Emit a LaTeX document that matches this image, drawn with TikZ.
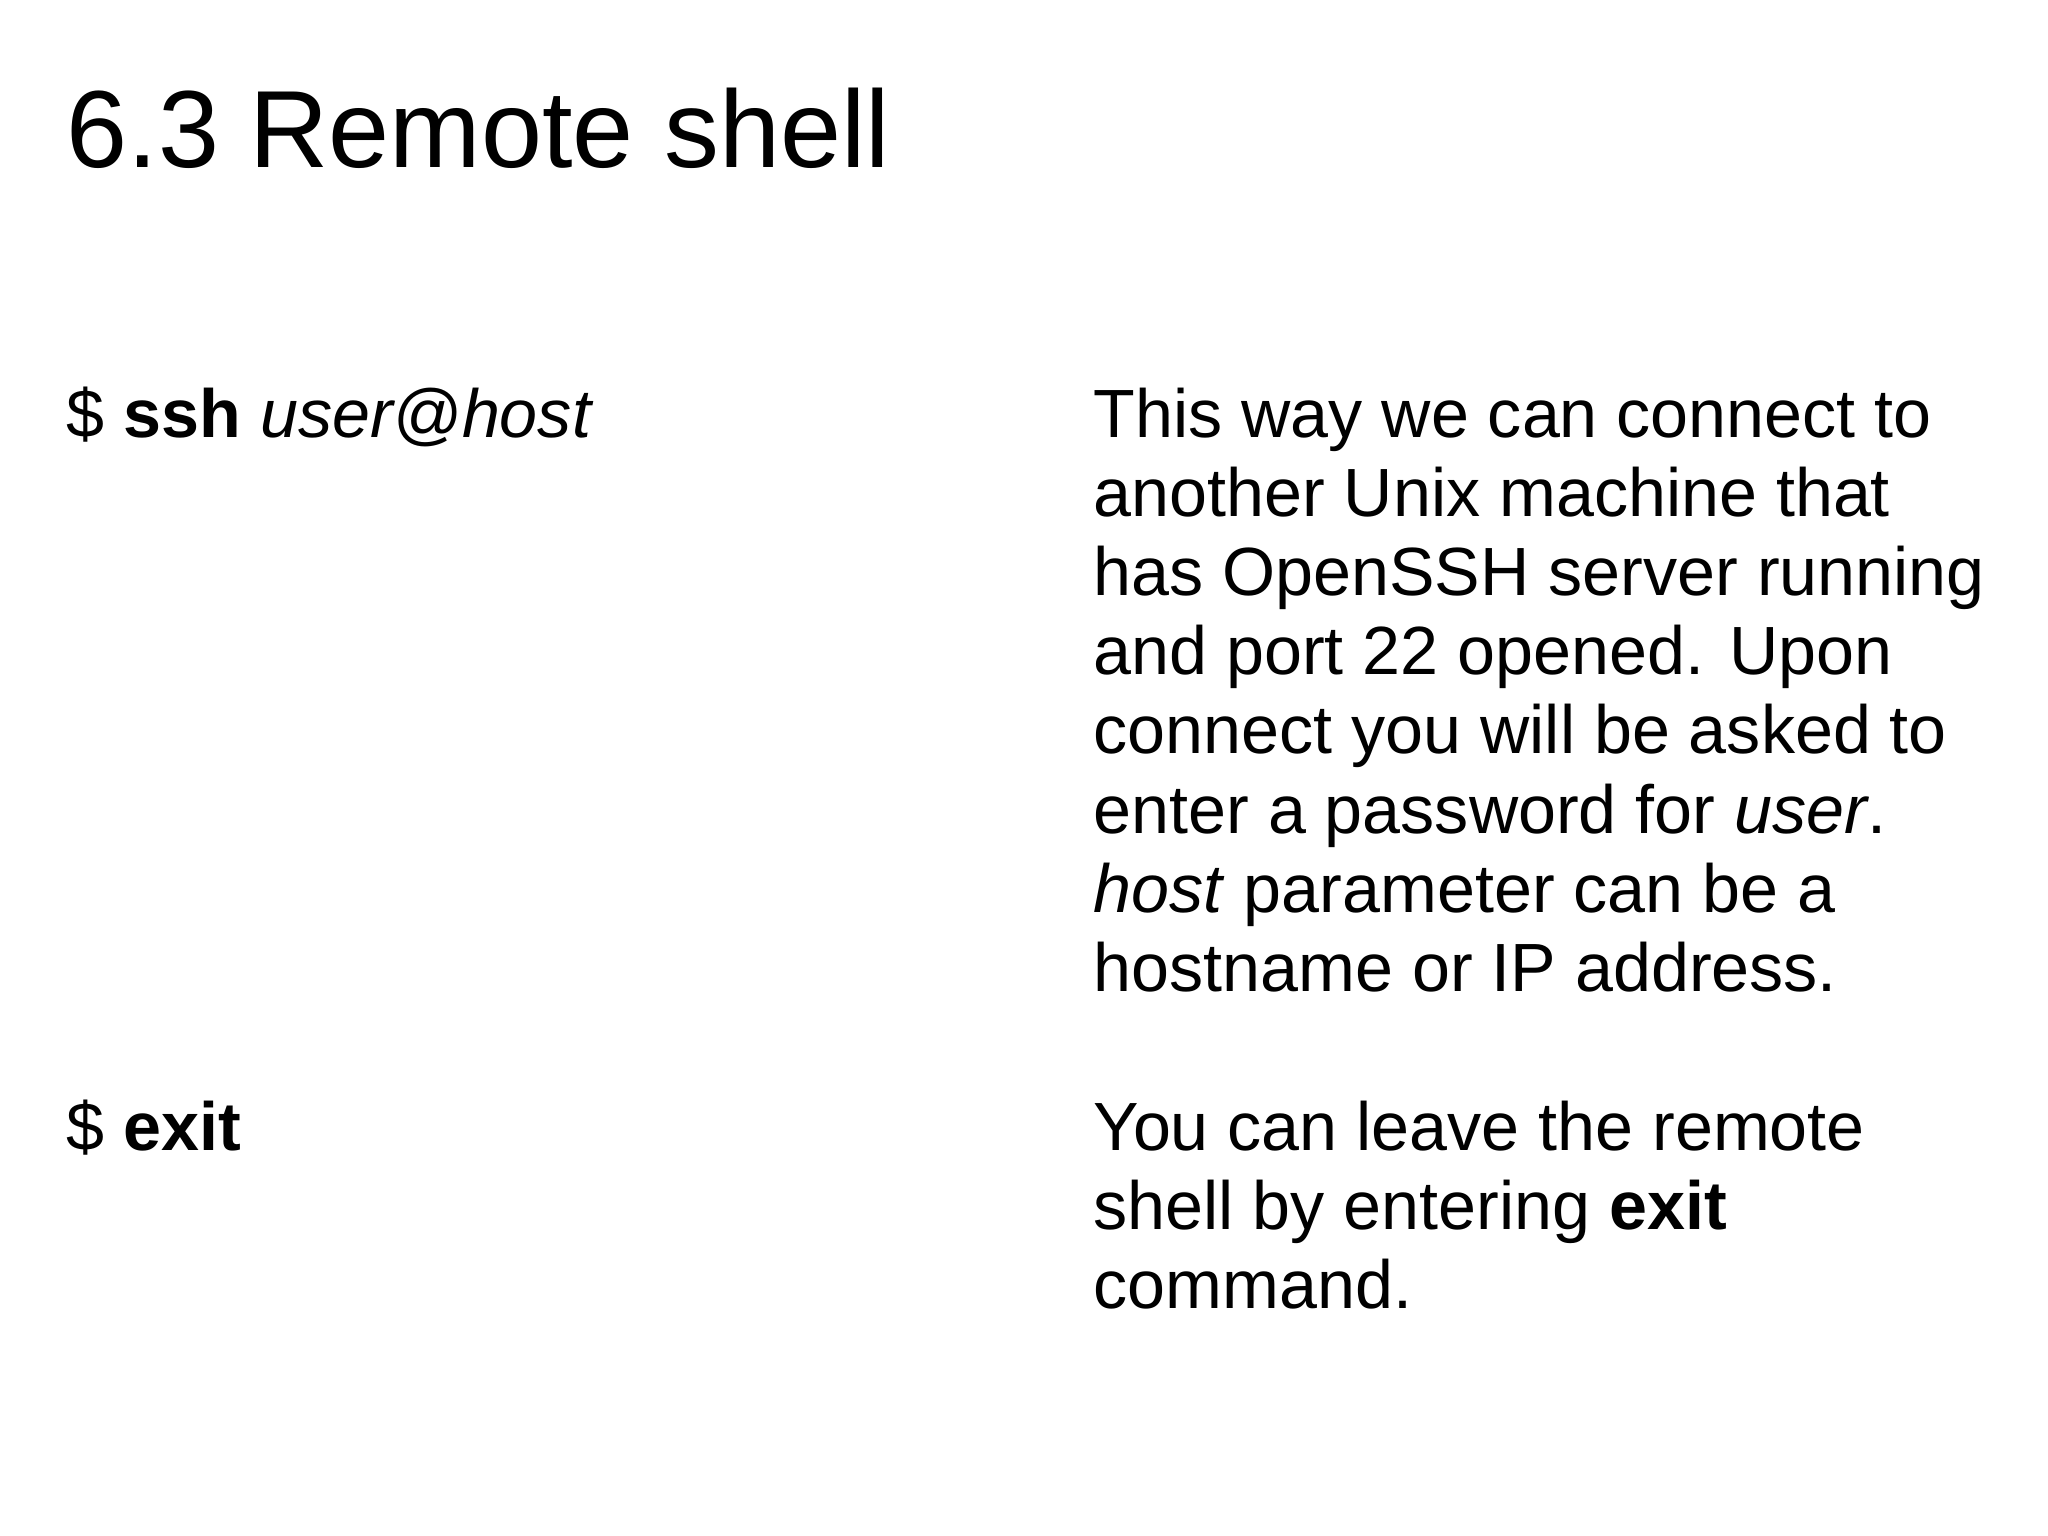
\documentclass[tikz,border=0pt]{standalone}
\usepackage{fontspec}
\setmainfont{Liberation Sans}
\begin{document}
\begin{tikzpicture}[x=0.01cm,y=-0.01cm,
  body/.style={anchor=base west,inner sep=0pt,font=\fontsize{19.4pt}{22pt}\selectfont}]
\useasboundingbox (0,0) rectangle (2048,1536);
\node[anchor=base west,inner sep=0pt,font=\fontsize{31.2pt}{38pt}\selectfont] (title) at (66,167) {6.3 Remote shell};
\node[body] (c1) at (66,437) {\$ \textbf{ssh} \textit{user@host}};
\node[body] (c2) at (66,1150) {\$ \textbf{exit}};
\foreach \t [count=\i from 0] in {This way we can connect to,another Unix machine that,has OpenSSH server running,and port 22 opened. Upon,connect you will be asked to,enter a password for \textit{user}.,\textit{host} parameter can be a,hostname or IP address.}
  \node[body] (d\i) at (1093,437+79.2*\i) {\t};
\foreach \t [count=\i from 0] in {You can leave the remote,shell by entering \textbf{exit},command.}
  \node[body] (e\i) at (1093,1150+79.2*\i) {\t};
\end{tikzpicture}
\end{document}
